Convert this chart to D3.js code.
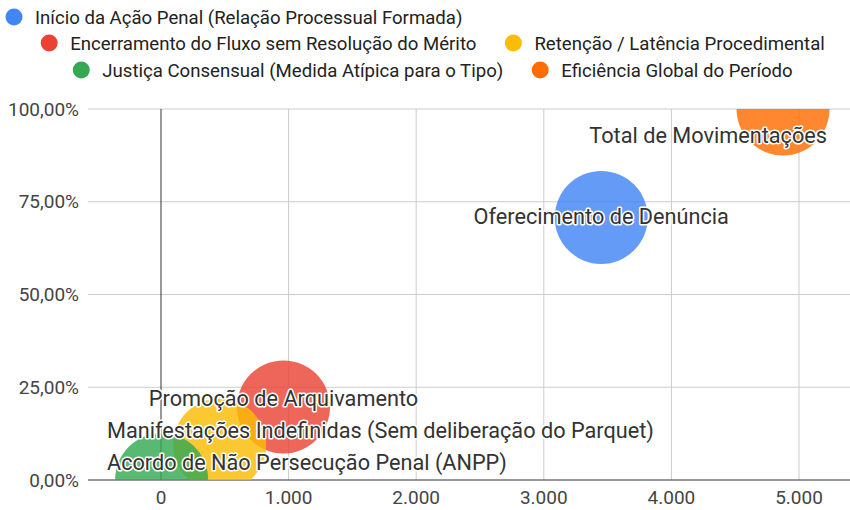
<!DOCTYPE html>
<html>
<head>
<meta charset="utf-8">
<script src="https://cdn.jsdelivr.net/npm/d3@7.9.0/dist/d3.min.js"></script>
<style>
  body { margin: 0; background: #fff; }
  svg { display: block; font-family: Roboto, "Liberation Sans", Arial, sans-serif; }
</style>
</head>
<body>
<svg id="chart" width="850" height="510"></svg>
<script>
// data
const labels = [
  'Oferecimento de Denúncia',
  'Promoção de Arquivamento',
  'Manifestações Indefinidas (Sem deliberação do Parquet)',
  'Acordo de Não Persecução Penal (ANPP)',
  'Total de Movimentações'
];
const series = [
  'Início da Ação Penal (Relação Processual Formada)',
  'Encerramento do Fluxo sem Resolução do Mérito',
  'Retenção / Latência Procedimental',
  'Justiça Consensual (Medida Atípica para o Tipo)',
  'Eficiência Global do Período'
];
const counts = [3450, 960, 460, 5, 4875];
const shares = [0.7077, 0.1969, 0.0944, 0.001, 1.0];
const sizes = [1, 1, 1, 1, 1];
const colors = ['#4285F4', '#EA4335', '#FBBC04', '#34A853', '#FF6D01'];
const xTicks = [0, 1000, 2000, 3000, 4000, 5000];
const yTicks = [0, 0.25, 0.5, 0.75, 1];

const svg = d3.select('#chart');
const pLeft = 88, pRight = 850, pTop = 109, pBottom = 480;

const x = d3.scaleLinear().domain([0, 5000]).range([161, 799]);
const y = d3.scaleLinear().domain([0, 1]).range([pBottom, pTop]);
const r = d3.scaleSqrt().domain([0, 1]).range([0, 46.5]);

const fmtX = d3.formatLocale({ decimal: ',', thousands: '.', grouping: [3] }).format(',.0f');
const fmtY = v => d3.format('.2f')(v * 100).replace('.', ',') + '%';

// grid
svg.append('g')
  .selectAll('line')
  .data(yTicks.filter(d => d > 0))
  .join('line')
  .attr('x1', pLeft).attr('x2', pRight)
  .attr('y1', d => y(d)).attr('y2', d => y(d))
  .attr('stroke', '#cccccc');

svg.append('g')
  .selectAll('line')
  .data(xTicks.filter(d => d !== 0))
  .join('line')
  .attr('x1', d => x(d)).attr('x2', d => x(d))
  .attr('y1', pTop).attr('y2', pBottom)
  .attr('stroke', '#cccccc');

// zero lines
svg.append('line')
  .attr('x1', x(0)).attr('x2', x(0))
  .attr('y1', pTop).attr('y2', pBottom)
  .attr('stroke', '#333');
svg.append('line')
  .attr('x1', pLeft).attr('x2', pRight)
  .attr('y1', pBottom).attr('y2', pBottom)
  .attr('stroke', '#333');

// tick labels
svg.append('g')
  .selectAll('text')
  .data(yTicks)
  .join('text')
  .attr('x', 79)
  .attr('y', d => y(d) + 6.5)
  .attr('text-anchor', 'end')
  .attr('font-size', 19)
  .attr('fill', '#444')
  .text(fmtY);

svg.append('g')
  .selectAll('text')
  .data(xTicks)
  .join('text')
  .attr('x', d => x(d))
  .attr('y', 504)
  .attr('text-anchor', 'middle')
  .attr('font-size', 19)
  .attr('fill', '#444')
  .text(fmtX);

// bubbles
svg.append('clipPath').attr('id', 'plot')
  .append('rect')
  .attr('x', pLeft).attr('y', pTop)
  .attr('width', pRight - pLeft).attr('height', pBottom - pTop);

const data = labels.map((l, i) => ({
  label: l, cx: x(counts[i]), cy: y(shares[i]), r: r(sizes[i]), color: colors[i]
}));

svg.append('g')
  .attr('clip-path', 'url(#plot)')
  .selectAll('circle')
  .data(data)
  .join('circle')
  .attr('cx', d => d.cx)
  .attr('cy', d => d.cy)
  .attr('r', d => d.r)
  .attr('fill', d => d.color)
  .attr('fill-opacity', 0.82);

// bubble labels - keep inside plot, push apart when they collide
const labelG = svg.append('g');
const fs = 21.7, gap = 32;
const texts = labelG.selectAll('text')
  .data(data)
  .join('text')
  .attr('font-size', fs)
  .attr('fill', '#333')
  .attr('stroke', '#fff')
  .attr('stroke-width', 3)
  .attr('stroke-linejoin', 'round')
  .attr('paint-order', 'stroke')
  .text(d => d.label);

texts.each(function (d) {
  const w = this.getComputedTextLength();
  let x0 = d.cx - w / 2;
  x0 = Math.max(107, Math.min(x0, 827 - w));
  d.x0 = x0; d.x1 = x0 + w;
  d.base = Math.max(pTop + 34, Math.min(d.cy + 7, pBottom - 10));
});

const placed = [];
data.slice().sort((a, b) => b.base - a.base).forEach(d => {
  placed.forEach(p => {
    const overlapX = d.x0 < p.x1 && d.x1 > p.x0;
    if (overlapX && p.base - d.base < gap) d.base = p.base - gap;
  });
  placed.push(d);
});

texts.attr('x', d => d.x0).attr('y', d => d.base);

// legend
const legend = svg.append('g').attr('font-size', 18.6).attr('fill', '#222');
const rows = [[0], [1, 2], [3, 4]];
const rowY = [17, 43, 70];
rows.forEach((row, ri) => {
  const g = legend.append('g');
  let cur = 0;
  row.forEach(i => {
    g.append('circle')
      .attr('cx', cur + 8).attr('cy', rowY[ri])
      .attr('r', 8.5).attr('fill', colors[i]);
    const t = g.append('text')
      .attr('x', cur + 29).attr('y', rowY[ri] + 6.5)
      .text(series[i]);
    cur += 29 + t.node().getComputedTextLength() + 29;
  });
  const w = cur - 29;
  const start = ri === 0 ? 6 : 433 - w / 2;
  g.attr('transform', `translate(${start},0)`);
});
</script>
</body>
</html>
